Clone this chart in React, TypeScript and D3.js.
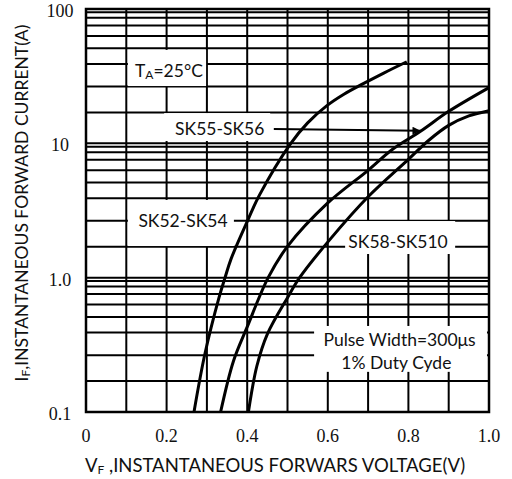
import React, { useRef, useEffect } from 'react';
import * as d3 from 'd3';

const W = 512;
const H = 479;

// forward voltage (V) vs forward current (A)
const sk52Volts = [0.268, 0.295, 0.33, 0.345, 0.36, 0.403, 0.43, 0.506, 0.55, 0.597, 0.64, 0.688, 0.74, 0.796];
const sk52Amps = [0.1, 0.27, 0.71, 1.0, 1.38, 2.74, 4.1, 9.8, 14.2, 19.0, 23.2, 27.8, 33.5, 40.5];
const sk55Volts = [0.334, 0.366, 0.4, 0.452, 0.5, 0.6, 0.7, 0.76, 0.83, 0.9, 1.0];
const sk55Amps = [0.1, 0.24, 0.43, 1.0, 1.71, 3.6, 6.3, 9.0, 12.3, 17.3, 26];
const sk58Volts = [0.403, 0.424, 0.45, 0.5, 0.53, 0.605, 0.7, 0.8, 0.85, 0.9, 0.95, 1.0];
const sk58Amps = [0.1, 0.22, 0.38, 0.71, 1.0, 1.92, 4.0, 7.6, 10.5, 13.6, 16.0, 17.5];

// axes
const voltTicks = [0, 0.2, 0.4, 0.6, 0.8, 1.0];
const voltTickLabels = ['0', '0.2', '0.4', '0.6', '0.8', '1.0'];
const voltGrid = [0.1, 0.2, 0.3, 0.4, 0.5, 0.6, 0.7, 0.8, 0.9];
const ampTicks = [0.1, 1, 10, 100];
const ampTickLabels = ['0.1', '1.0', '10', '100'];
const decades = [0.1, 1, 10];
// the printed grid is not a true log grid, these are where its lines sit in each decade
const gridFactors = [1.7, 2.65, 3.9, 5.1, 6.3, 7.55, 8.6, 9.45, 10];

// annotations, in data units: [volts, amps]
const labelNames = ['SK55-SK56', 'SK52-SK54', 'SK58-SK510'];
const labelAt = [[0.221, 13.0], [0.13, 2.66], [0.651, 1.85]];
const labelBoxes = [
  [0.194, 0.457, 16.8, 10.4],
  [0.104, 0.367, 3.79, 1.72],
  [0.643, 0.916, 2.64, 1.5],
];
const tempBox = [0.104, 0.298, 49.6, 26.7];
const tempAt = [0.1216, 35.2];
const pulseLines = ['Pulse Width=300\u03bcs', '1% Duty Cyde'];
const pulseAt = [[0.778, 0.344], [0.77, 0.234]];
const pulseBox = [0.566, 0.995, 0.437, 0.199];
const arrowFrom = [0.466, 12.8];
const arrowTo = [0.83, 12.4];

const labelFont = 'Lato, "Open Sans", sans-serif';
const tickFont = '"Liberation Serif", serif';

export default function App() {
  const svgRef = useRef<SVGSVGElement>(null);

  useEffect(() => {
    const svg = d3.select(svgRef.current);
    svg.selectAll('*').remove();
    draw(svg);
  }, []);

  return (
    <svg
      ref={svgRef}
      width={W}
      height={H}
      style={{ position: 'absolute', left: 0, top: 0, background: '#fff' }}
    />
  );
}

function draw(svg: any) {
  const x = d3.scaleLinear().domain([0, 1]).range([86, 489]);
  const y = d3.scaleLog().domain([0.1, 100]).range([412, 9]);

  // grid
  const grid = svg.append('g').attr('stroke', '#000').attr('stroke-width', 2);
  grid.selectAll('line.v')
    .data(voltGrid)
    .join('line')
    .attr('x1', d => x(d)).attr('x2', d => x(d))
    .attr('y1', y(0.1)).attr('y2', y(100));

  const ampGrid = decades.flatMap(d => gridFactors.map(f => d * f)).filter(v => v < 99);
  grid.selectAll('line.h')
    .data(ampGrid)
    .join('line')
    .attr('x1', x(0)).attr('x2', x(1))
    .attr('y1', d => y(d)).attr('y2', d => y(d));

  // white boxes behind the annotations
  const boxes = [tempBox, ...labelBoxes, pulseBox];
  svg.append('g').selectAll('rect')
    .data(boxes)
    .join('rect')
    .attr('x', d => x(d[0]))
    .attr('y', d => y(d[2]))
    .attr('width', d => x(d[1]) - x(d[0]))
    .attr('height', d => y(d[3]) - y(d[2]))
    .attr('fill', '#fff');

  // frame
  svg.append('rect')
    .attr('x', x(0)).attr('y', y(100))
    .attr('width', x(1) - x(0)).attr('height', y(0.1) - y(100))
    .attr('fill', 'none').attr('stroke', '#000').attr('stroke-width', 2.5);

  // curves
  const series = [
    d3.zip(sk52Volts, sk52Amps),
    d3.zip(sk55Volts, sk55Amps),
    d3.zip(sk58Volts, sk58Amps),
  ];
  const line = d3.line()
    .x(d => x(d[0]))
    .y(d => y(d[1]))
    .curve(d3.curveCatmullRom.alpha(0.5));
  svg.append('g').selectAll('path')
    .data(series)
    .join('path')
    .attr('d', d => line(d))
    .attr('fill', 'none')
    .attr('stroke', '#000')
    .attr('stroke-width', 3);

  // arrow to the SK55-SK56 curve
  svg.append('defs').append('marker')
    .attr('id', 'head')
    .attr('viewBox', '0 0 10 10')
    .attr('refX', 10).attr('refY', 5)
    .attr('markerWidth', 10).attr('markerHeight', 8)
    .attr('markerUnits', 'userSpaceOnUse')
    .attr('orient', 'auto')
    .append('path')
    .attr('d', 'M0,0L10,5L0,10z')
    .attr('fill', '#000');
  svg.append('line')
    .attr('x1', x(arrowFrom[0])).attr('y1', y(arrowFrom[1]))
    .attr('x2', x(arrowTo[0])).attr('y2', y(arrowTo[1]))
    .attr('stroke', '#000').attr('stroke-width', 2)
    .attr('marker-end', 'url(#head)');

  // labels
  const lab = svg.append('g')
    .attr('font-family', labelFont)
    .attr('font-size', 17.5)
    .attr('fill', '#111');
  lab.selectAll('text.sk')
    .data(labelNames)
    .join('text')
    .attr('x', (d, i) => x(labelAt[i][0]))
    .attr('y', (d, i) => y(labelAt[i][1]))
    .attr('dominant-baseline', 'central')
    .text(d => d);

  const temp = lab.append('text')
    .attr('x', x(tempAt[0]))
    .attr('y', y(tempAt[1]))
    .attr('dominant-baseline', 'central');
  temp.append('tspan').text('T');
  temp.append('tspan').attr('font-size', 12).attr('dy', 4).text('A');
  temp.append('tspan').attr('dy', -4).text('=25\u00b0C');

  lab.selectAll('text.pulse')
    .data(pulseLines)
    .join('text')
    .attr('x', (d, i) => x(pulseAt[i][0]))
    .attr('y', (d, i) => y(pulseAt[i][1]))
    .attr('text-anchor', 'middle')
    .attr('dominant-baseline', 'central')
    .text(d => d);

  // tick labels
  const ticks = svg.append('g')
    .attr('font-family', tickFont)
    .attr('font-size', 18)
    .attr('fill', '#111')
    .attr('text-anchor', 'middle')
    .attr('dominant-baseline', 'central');
  ticks.selectAll('text.x')
    .data(voltTicks)
    .join('text')
    .attr('x', d => x(d))
    .attr('y', 436)
    .text((d, i) => voltTickLabels[i]);
  svg.append('g')
    .attr('font-family', tickFont)
    .attr('font-size', 18)
    .attr('fill', '#111')
    .attr('text-anchor', 'middle')
    .attr('dominant-baseline', 'central')
    .selectAll('text')
    .data(ampTicks)
    .join('text')
    .attr('x', 60)
    .attr('y', d => y(d) + 2)
    .text((d, i) => ampTickLabels[i]);

  // axis titles
  const xt = svg.append('text')
    .attr('x', 275).attr('y', 465)
    .attr('text-anchor', 'middle')
    .attr('dominant-baseline', 'central')
    .attr('font-family', labelFont)
    .attr('font-size', 18.5)
    .attr('fill', '#111');
  xt.append('tspan').text('V');
  xt.append('tspan').attr('font-size', 12).attr('dy', 4).text('F');
  xt.append('tspan').attr('dy', -4).text(' ,INSTANTANEOUS FORWARS VOLTAGE(V)');

  const yt = svg.append('text')
    .attr('transform', 'translate(21,203) rotate(-90)')
    .attr('text-anchor', 'middle')
    .attr('dominant-baseline', 'central')
    .attr('font-family', labelFont)
    .attr('font-size', 17.5)
    .attr('fill', '#111');
  yt.append('tspan').text('I');
  yt.append('tspan').attr('font-size', 12).attr('dy', 4).text('F');
  yt.append('tspan').attr('dy', -4).text(',INSTANTANEOUS FORWARD CURRENT(A)');
}
